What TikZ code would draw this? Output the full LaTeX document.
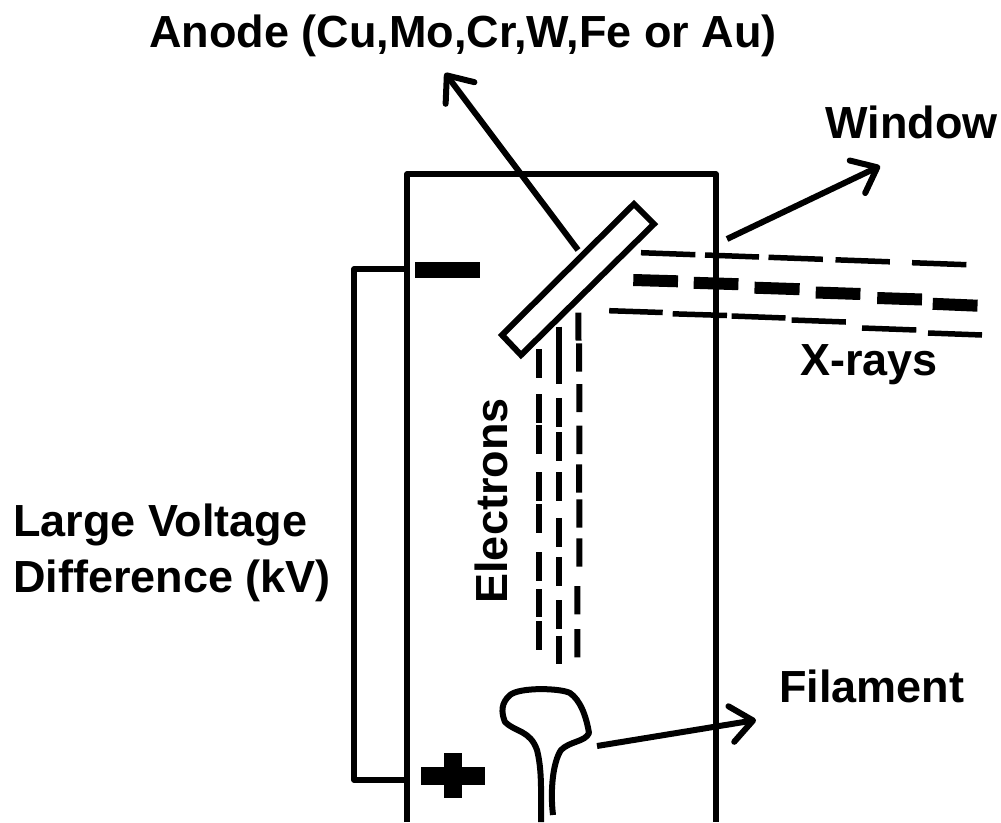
\documentclass[tikz,border=0pt]{standalone}
\usepackage{fontspec}
\setmainfont{Liberation Sans}
\usetikzlibrary{arrows.meta}
\tikzset{
  lbl/.style={font=\fontsize{45}{56}\selectfont\bfseries, inner sep=0pt, text=black},
  ln/.style={draw=black, line width=5.5pt},
  leader/.style={ln, line width=6pt, -{Straight Barb[length=22pt,width=36pt,line width=6pt,round]}},
  ebeam/.style={draw=black, line width=6pt},
  xthin/.style={draw=black, line width=5.5pt},
  xthick/.style={draw=black, line width=12pt},
  sign/.style={fill=black, draw=none},
}
\begin{document}
\begin{tikzpicture}[x=1pt,y=-1pt]
\useasboundingbox (0,0) rectangle (1001,822);
\fill[white] (0,0) rectangle (1001,822);
% labels
\node[lbl] (anodeL) at (463,36) {Anode (Cu,Mo,Cr,W,Fe or Au)};
\node[lbl,anchor=east] (windowL) at (998,122) {Window};
\node[lbl] (xraysL) at (869,365) {X-rays};
\node[lbl,rotate=90] (electronsL) at (491,501) {Electrons};
\node[lbl,anchor=west,align=left] (voltL) at (13,553) {Large Voltage\\Difference (kV)};
\node[lbl,anchor=west] (filL) at (779,686) {Filament};
% tube
\draw[ln,line join=round] (407,822) -- (407,174) -- (716,174) -- (716,822);
% anode
\draw[ln,line width=6pt,miter limit=10] (634,204) -- (654,224) -- (521,355) -- (502,335) -- cycle;
\coordinate (aS) at (578,250);
\coordinate (aT) at (445,73);
\coordinate (wS) at (727,239);
\coordinate (wT) at (880,166);
\coordinate (fS) at (597,746);
\coordinate (fT) at (756,720);
\draw[leader] (aS) -- (aT);
\draw[leader] (wS) -- (wT);
\draw[leader] (fS) -- (fT);
% signs
\fill[sign] (415.3,262.3) rectangle (479.5,277.7);
\fill[sign] (420.7,766.7) rectangle (485,785);
\fill[sign] (444,753.3) rectangle (462,798.3);
% wire
\coordinate (wa) at (407,269);
\coordinate (wb) at (354,269);
\coordinate (wc) at (354,780);
\coordinate (wd) at (407,780);
\draw[ln,line join=round] (wa) -- (wb) -- (wc) -- (wd);
% filament
\draw[ln,line width=6pt,line join=round]
 (541,822) .. controls (541,790) and (542,770) .. (537,750)
 .. controls (530,730) and (515,732) .. (505,722)
 .. controls (501,712) and (501,703) .. (510,695)
 .. controls (520,687) and (560,688) .. (570,693)
 .. controls (580,700) and (586,715) .. (589,733)
 .. controls (585,742) and (570,741) .. (561,750)
 .. controls (553,762) and (550,790) .. (553,815);
% electrons
\draw[ebeam]
 (539,349.3)--(539,378.3) (539,394.3)--(539,423.3) (539,425)--(539,454)
 (539,472.3)--(539,501.3) (539,504)--(539,532.7) (539,552.3)--(539,580.7)
 (539,589.3)--(539,617.3) (539,621.3)--(539,650);
\draw[ebeam]
 (558.7,326.7)--(558.7,355) (559,355)--(559,384) (559,398.3)--(559,426.7)
 (559,432.3)--(559,461) (559,472.3)--(559,501) (559,518.3)--(559,546.7)
 (559,557.3)--(559,586) (559,600)--(559,629) (559.3,635.7)--(559.3,664.3);
\draw[ebeam]
 (578.3,312.7)--(578.5,340.7) (579,343.3)--(579.2,371.7) (579.3,384)--(579.3,412)
 (579.3,425.7)--(579.3,454) (579,464.3)--(579,492.7) (579.3,499.3)--(579.3,527.7)
 (579.3,538.3)--(579.3,566.7) (577.3,586)--(577.3,614.3) (577.3,629)--(577.3,657.3);
% x-rays
\draw[xthin]
 (641,252.7)--(695.4,254.7) (705,255)--(759,257) (768.5,257.3)--(822.9,259.3)
 (835.5,259.8)--(889.9,261.8) (912,262.7)--(966.4,264.7);
\draw[xthick]
 (633.3,280)--(678,281.3) (693.7,282.8)--(738.4,284.2) (754.5,287.7)--(799.6,289.2)
 (815.7,292.5)--(860.4,294) (877.2,298)--(922,299.5) (932.7,303.8)--(977.5,305.7);
\draw[xthin]
 (609.2,310.7)--(662.7,312.5) (672.7,313.8)--(727,315.5) (731.6,316)--(785.5,318)
 (791.6,320)--(845.9,322) (862,328)--(916.3,330) (928,333)--(982,335);
\end{tikzpicture}
\end{document}
